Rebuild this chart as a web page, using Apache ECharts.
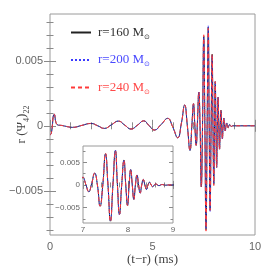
<!DOCTYPE html>
<html><head><meta charset="utf-8">
<script src="https://cdn.jsdelivr.net/npm/echarts@6/dist/echarts.min.js"></script>
<style>html,body{margin:0;padding:0;background:#fff}#c{width:269px;height:269px}</style>
</head><body><div id="c"></div>
<script>
// time (ms) sample points
const tPts = [0,0.06,0.21,0.36,0.6,0.8,1.1,1.55,2.0,2.33,2.65,3.0,3.33,3.65,3.95,4.27,4.57,4.83,5.09,5.42,5.74,5.99,6.23,6.41,6.57,6.70,6.83,6.92,7.00,7.06,7.13,7.19,7.26,7.32,7.38,7.44,7.50,7.555,7.61,7.665,7.72,7.765,7.81,7.86,7.91,7.95,7.99,8.025,8.06,8.095,8.13,8.165,8.20,8.235,8.27,8.305,8.34,8.375,8.41,8.445,8.48,8.515,8.55,8.585,8.62,8.655,8.69,8.725,8.76,8.80,8.85,8.90,10];
const r160 = [-0.0007,-0.0006,0.00088,0.00008,0.00002,-0.00005,-0.00012,0.00003,0.00018,0,-0.0002,0.00008,0.00036,0.00005,-0.00025,0.00005,0.00038,0.00002,-0.00033,0.0001,0.00057,-0.0001,-0.00092,0.0002,0.0016,0,-0.0019,0,0.0017,0.0002,-0.0015,0.0002,0.0026,0,-0.0047,0,0.0069,0,-0.0080,0,0.0076,0,-0.0065,0,0.0055,0,-0.0045,0,0.0034,0,-0.0032,0,0.0022,0,-0.0018,0,0.0012,0,-0.001,0,0.0006,0,-0.0004,0,0.00022,0,-0.00015,0,0.0001,0,-0.00005,0,0];
const r200 = [-0.0007,-0.0006,0.00087,0.00008,0.00002,-0.00005,-0.00012,0.00003,0.00018,0,-0.0002,0.00008,0.00036,0.00005,-0.00025,0.00005,0.00038,0.00002,-0.00033,0.0001,0.00057,-0.0001,-0.00092,0.0002,0.0016,0,-0.0019,0,0.0017,0.0002,-0.0015,0.0002,0.0026,0,-0.0047,0,0.0068,0,-0.0079,0,0.0077,0,-0.0066,0,0.0054,0,-0.0045,0,0.0034,0,-0.0032,0,0.0022,0,-0.0018,0,0.0012,0,-0.001,0,0.0006,0,-0.0004,0,0.00022,0,-0.00015,0,0.0001,0,-0.00005,0,0];
const r240 = [-0.0007,-0.0006,0.00089,0.00008,0.00002,-0.00005,-0.00012,0.00003,0.00018,0,-0.0002,0.00008,0.00036,0.00005,-0.00025,0.00005,0.00038,0.00002,-0.00033,0.0001,0.00057,-0.0001,-0.00092,0.0002,0.0016,0,-0.0019,0,0.0017,0.0002,-0.0015,0.0002,0.0026,0,-0.0047,0,0.0070,0,-0.0081,0,0.0075,0,-0.0065,0,0.0055,0,-0.0046,0,0.0034,0,-0.0032,0,0.0022,0,-0.0018,0,0.0012,0,-0.001,0,0.0006,0,-0.0004,0,0.00022,0,-0.00015,0,0.0001,0,-0.00005,0,0];
const seriesNames = ['r=160','r=200','r=240'];

// tick values
const mainXMajor = [0,5,10];
const mainXMinor = [1,2,3,4,6,7,8,9];
const mainYMajor = [-0.005,0,0.005];
const mainYMinor = [-0.008,-0.007,-0.006,-0.004,-0.003,-0.002,-0.001,0.001,0.002,0.003,0.004,0.006,0.007,0.008];
const insetXMajor = [7,8,9];
const insetXMinor = [7.2,7.4,7.6,7.8,8.2,8.4,8.6,8.8];
const insetYMajor = [-0.005,0,0.005];
const insetYMinor = [-0.0075,-0.0025,0.0025,0.0075];
const yMin = -0.0084, yMax = 0.0086;

const tickC = '#8a8a8a', frameC = '#9a9a9a', labC = '#666';
const serif = 'Liberation Serif';
const sans = 'Liberation Sans';

function fmtY(v){ if (Math.abs(v) < 1e-12) return '0'; return (v<0?'\u2212':'') + Math.abs(v).toFixed(3); }
function fmtX(v){ return String(Math.round(v)); }

function axisSet(dim, grid, min, max, majors, minors, majLen, minLen, label, extra) {
  const common = {type:'value', gridIndex:grid, min:min, max:max, axisLine:{show:false}, splitLine:{show:false}, axisPointer:{show:false}};
  const pA = dim==='x' ? 'bottom' : 'left', pB = dim==='x' ? 'top' : 'right';
  const tk = (vals, len) => ({show:true, inside:true, length:len, customValues:vals, lineStyle:{color:tickC, width:1}});
  return [
    Object.assign({}, common, {position:pA, axisTick:tk(majors, majLen),
      axisLabel: label ? Object.assign({show:true, customValues:majors}, label) : {show:false}}, extra || {}),
    Object.assign({}, common, {position:pA, axisTick:tk(minors, minLen), axisLabel:{show:false}}),
    Object.assign({}, common, {position:pB, axisTick:tk(majors, majLen), axisLabel:{show:false}}),
    Object.assign({}, common, {position:pB, axisTick:tk(minors, minLen), axisLabel:{show:false}})
  ];
}

const xAxes = [].concat(
  axisSet('x', 0, 0, 10, mainXMajor, mainXMinor, 6, 3.5,
    {formatter: fmtX, color: labC, fontFamily: sans, fontSize: 11, margin: 6},
    {name: '(t\u2212r) (ms)', nameLocation:'middle', nameGap: 18, nameMoveOverlap:false,
     nameTextStyle:{fontFamily: serif, fontSize: 13, color: '#444'}}),
  axisSet('x', 1, 7, 9, insetXMajor, insetXMinor, 4, 2.5,
    {formatter: fmtX, color: labC, fontFamily: sans, fontSize: 8, margin: 3})
);
const yAxes = [].concat(
  axisSet('y', 0, yMin, yMax, mainYMajor, mainYMinor, 6, 3.5,
    {formatter: fmtY, color: labC, fontFamily: sans, fontSize: 11, margin: 7},
    {name: '{a|r (\u03A8}{s|4}{a|)}{s|22}', nameLocation:'middle', nameGap: 19, nameRotate: 90, nameMoveOverlap:false,
     nameTextStyle:{color:'#444', rich:{
       a:{fontFamily: serif, fontSize: 13, lineHeight: 18, verticalAlign:'middle', color:'#444'},
       s:{fontFamily: serif, fontSize: 8, lineHeight: 8, verticalAlign:'bottom', color:'#444'}}}}),
  axisSet('y', 1, yMin, yMax, insetYMajor, insetYMinor, 4, 2.5,
    {formatter: fmtY, color: labC, fontFamily: sans, fontSize: 8, margin: 3})
);

const styles = [
  {color:'#222222', text:'#333333', type:'solid'},
  {color:'#3a3aff', text:'#4a4aff', type:'dotted'},
  {color:'#ff3a3a', text:'#ff4a4a', type:[4,3]}
];
const vals = [r160, r200, r240];
const series = [];
[0,1].forEach(function(g){
  vals.forEach(function(v, i){
    series.push({
      type:'line', name: seriesNames[i], xAxisIndex: g*4, yAxisIndex: g*4,
      data: tPts.map(function(t, k){ return [t, v[k]]; }),
      symbol:'none', showSymbol:false, smooth:0.5, clip:true,
      lineStyle:{color:styles[i].color, type:styles[i].type, width:1},
      itemStyle:{color:styles[i].color},
      emphasis:{disabled:true}, z: 2 + i
    });
  });
});

const chart = echarts.init(document.getElementById('c'), null, {renderer:'canvas'});
chart.setOption({
  animation:false,
  backgroundColor:'#fff',
  grid:[
    {left:50, top:14, right:14, bottom:34, show:true, borderColor:frameC, borderWidth:1, backgroundColor:'transparent', containLabel:false, outerBoundsMode:'none'},
    {left:83, top:146, width:90, height:77, show:true, borderColor:frameC, borderWidth:1, backgroundColor:'#fff', containLabel:false, outerBoundsMode:'none'}
  ],
  xAxis: xAxes,
  yAxis: yAxes,
  legend:{
    show:true, orient:'vertical', left:70, top:26, padding:0, itemWidth:20, itemHeight:14, itemGap:13,
    itemStyle:{opacity:0, color:'transparent', borderColor:'transparent', borderWidth:0},
    selectedMode:false,
    data: seriesNames.map(function(n,i){ return {name:n, textStyle:{color: styles[i].text}}; }),
    formatter: function(n){ return '{a|' + n + ' M}{b|\u2299}'; },
    textStyle:{fontFamily: serif, fontSize: 13, padding:[0,0,0,2], rich:{
      a:{fontFamily: serif, fontSize: 13, lineHeight: 16, verticalAlign:'middle'},
      b:{fontFamily: 'DejaVu Sans', fontSize: 7, lineHeight: 8, verticalAlign:'bottom'}}}
  },
  series: series
});
</script></body></html>
